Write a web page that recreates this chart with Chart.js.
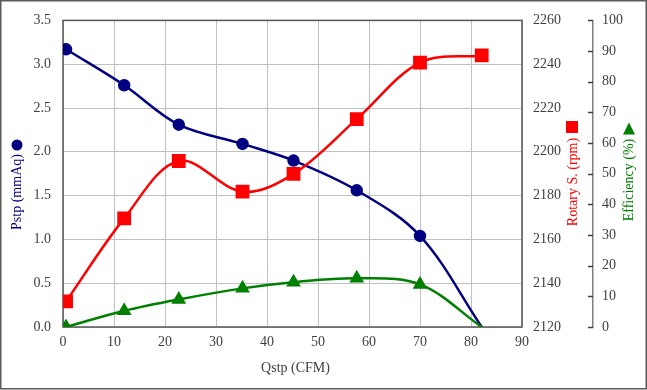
<!DOCTYPE html>
<html>
<head>
<meta charset="utf-8">
<script src="https://cdn.jsdelivr.net/npm/chart.js@4.4.1/dist/chart.umd.min.js"></script>
<style>
  html, body { margin: 0; padding: 0; background: #fff; }
  canvas { display: block; }
</style>
</head>
<body>
<canvas id="fanChart" width="647" height="390"></canvas>
<script>
// flow rate points (CFM)
const qstp = [0.6, 12, 22.7, 35.2, 45.2, 57.6, 70, 82.1];
// static pressure (mmAq)
const pstp = [3.17, 2.76, 2.31, 2.09, 1.90, 1.56, 1.04, 0];
// rotary speed (rpm)
const rpm = [2131.7, 2169.6, 2195.8, 2181.8, 2189.9, 2214.9, 2240.7, 2244.0];
// efficiency (%)
const eff = [0, 5.3, 9.0, 12.6, 14.6, 15.9, 13.9, 0];

const xTicks = [0, 10, 20, 30, 40, 50, 60, 70, 80, 90];

const NAVY = "#000080";
const RED = "#ff0000";
const GREEN = "#008000";
const GRID = "#c0c0c0";
const FRAME = "#555555";

Chart.defaults.font.family = "'Liberation Serif', 'Times New Roman', serif";
Chart.defaults.font.size = 14;
Chart.defaults.color = "#404040";

const toPoints = (ys) => qstp.map((x, i) => ({ x: x, y: ys[i] }));

// frame, axis titles and their little symbol markers
const decorations = {
  id: "decorations",
  beforeDatasetsDraw(chart) {
    const { ctx, chartArea: a } = chart;
    ctx.save();
    ctx.strokeStyle = FRAME;
    ctx.lineWidth = 1.5;
    ctx.strokeRect(a.left, a.top, a.right - a.left, a.bottom - a.top);
    ctx.restore();
  },
  afterDraw(chart) {
    const { ctx, chartArea: a } = chart;
    ctx.save();
    ctx.font = "14px 'Liberation Serif', 'Times New Roman', serif";
    ctx.textAlign = "center";
    ctx.textBaseline = "middle";

    // x title
    ctx.fillStyle = "#404040";
    ctx.fillText("Qstp (CFM)", (a.left + a.right) / 2 + 3, 368);

    const vTitle = (text, x, y, color) => {
      ctx.save();
      ctx.translate(x, y);
      ctx.rotate(-Math.PI / 2);
      ctx.fillStyle = color;
      ctx.fillText(text, 0, 0);
      ctx.restore();
    };
    vTitle("Pstp (mmAq)", 17, 192, NAVY);
    vTitle("Rotary S. (rpm)", 573, 182, RED);
    vTitle("Efficiency (%)", 629, 180, GREEN);

    // symbols above the titles
    ctx.fillStyle = NAVY;
    ctx.beginPath();
    ctx.arc(17, 145, 5.5, 0, Math.PI * 2);
    ctx.fill();

    ctx.fillStyle = RED;
    ctx.fillRect(566, 121, 12, 12);

    ctx.fillStyle = GREEN;
    ctx.beginPath();
    ctx.moveTo(629, 122.5);
    ctx.lineTo(635, 134.5);
    ctx.lineTo(623, 134.5);
    ctx.closePath();
    ctx.fill();

    // eff axis inward ticks
    const e = chart.scales.yE;
    ctx.strokeStyle = "#404040";
    ctx.lineWidth = 1.5;
    e.ticks.forEach((t) => {
      const py = Math.round(e.getPixelForValue(t.value)) + 0.5;
      ctx.beginPath();
      ctx.moveTo(e.left - 5, py);
      ctx.lineTo(e.left, py);
      ctx.stroke();
    });

    // outer picture border
    ctx.strokeStyle = "#5a5a5a";
    ctx.lineWidth = 1.5;
    ctx.strokeRect(0.75, 0.75, 645.5, 388);
    ctx.restore();
  },
};

new Chart(document.getElementById("fanChart"), {
  type: "line",
  data: {
    datasets: [
      {
        label: "Pstp",
        data: toPoints(pstp),
        yAxisID: "y",
        borderColor: NAVY,
        backgroundColor: NAVY,
        borderWidth: 2.5,
        pointStyle: "circle",
        pointRadius: [5, 5, 5, 5, 5, 5, 5, 0],
        tension: 0.35,
        order: 3,
      },
      {
        label: "Rotary S.",
        data: toPoints(rpm),
        yAxisID: "yR",
        borderColor: RED,
        backgroundColor: RED,
        borderWidth: 2.5,
        pointStyle: "rect",
        pointRadius: 8,
        tension: 0.35,
        order: 2,
      },
      {
        label: "Efficiency",
        data: toPoints(eff),
        yAxisID: "yE",
        borderColor: GREEN,
        backgroundColor: GREEN,
        borderWidth: 2.5,
        pointStyle: "triangle",
        pointRadius: [6, 6, 6, 6, 6, 6, 6, 0],
        tension: 0.35,
        order: 1,
      },
    ],
  },
  options: {
    responsive: false,
    animation: false,
    events: [],
    layout: { padding: { top: 19, bottom: 0, left: 0, right: 0 } },
    plugins: {
      legend: { display: false },
      tooltip: { enabled: false },
    },
    scales: {
      x: {
        type: "linear",
        min: 0,
        max: 90,
        afterBuildTicks: (s) => { s.ticks = xTicks.map((v) => ({ value: v })); },
        grid: { color: GRID, drawTicks: false },
        border: { display: false },
        ticks: { padding: 7, maxRotation: 0 },
        afterFit: (s) => { s.height = 63; },
      },
      y: {
        position: "left",
        min: 0,
        max: 3.5,
        ticks: { stepSize: 0.5, padding: 12, callback: (v) => v.toFixed(1) },
        grid: { color: GRID, drawTicks: false },
        border: { display: false },
        afterFit: (s) => { s.width = 63; },
      },
      yR: {
        position: "right",
        min: 2120,
        max: 2260,
        ticks: { stepSize: 20, padding: 11, callback: (v) => String(v) },
        grid: { drawOnChartArea: false, drawTicks: false },
        border: { display: false },
        afterFit: (s) => { s.width = 71; },
      },
      yE: {
        position: "right",
        min: 0,
        max: 100,
        ticks: { stepSize: 10, padding: 9 },
        grid: { drawOnChartArea: false, drawTicks: false },
        border: { display: true, color: "#808080", width: 1.5 },
        afterFit: (s) => { s.width = 54; },
      },
    },
  },
  plugins: [decorations],
});
</script>
</body>
</html>
